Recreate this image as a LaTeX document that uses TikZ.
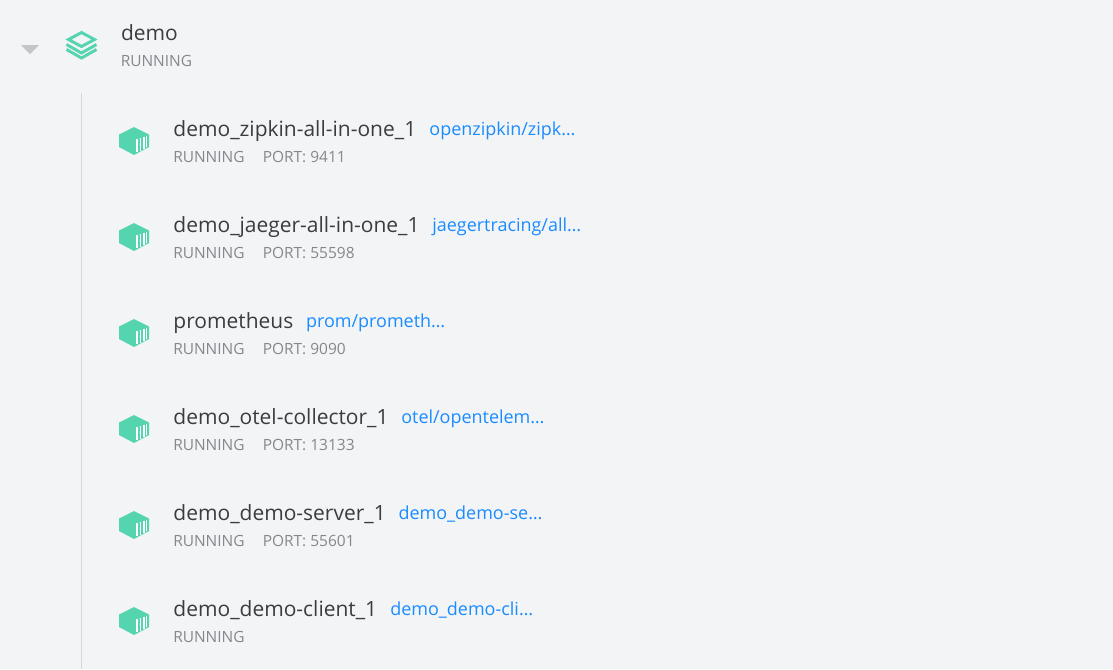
\documentclass[tikz,border=0pt]{standalone}
\usepackage{fontspec}
\setmainfont{Open Sans}
\usetikzlibrary{positioning}
\definecolor{PageBg}{HTML}{F3F4F6}
\definecolor{TreeLine}{HTML}{D6D7D9}
\definecolor{ArrowGrey}{HTML}{C4C5C7}
\definecolor{IconGreen}{HTML}{55D4B0}
\definecolor{NameInk}{HTML}{3A3D40}
\definecolor{StateInk}{HTML}{84888C}
\definecolor{ImageBlue}{HTML}{1A8CFF}
\tikzset{
  namelabel/.style={anchor=base west,inner sep=0pt,text=NameInk,font=\fontsize{15.73pt}{18pt}\selectfont},
  imagelabel/.style={anchor=base west,inner sep=0pt,text=ImageBlue,font=\fontsize{13.47pt}{16pt}\selectfont},
  statelabel/.style={anchor=base west,inner sep=0pt,text=StateInk,font=\fontsize{11.6pt}{13pt}\selectfont},
  boxicon/.pic={
    \fill[IconGreen] (134,-14) -- (149,-6.5) -- (149,6) -- (134,14) -- (119,6) -- (119,-6.5) -- cycle;
    \foreach \x/\w/\a/\b in {135.7/2/-1.7/11.3,139.7/1.6/-3/9.8,143.3/1.4/-4/8,146/1.3/-5.3/6} {
      \fill[white] (\x,\a) rectangle (\x+\w,\b);
    }
  }
}
\begin{document}
\begin{tikzpicture}[x=0.75pt,y=-0.75pt]
    \fill[PageBg] (0,0) rectangle (1113,669);
    \useasboundingbox (0,0) rectangle (1113,669);
    % tree head
    \fill[ArrowGrey] (21,45) -- (39,45) -- (30,54) -- cycle;
    \draw[TreeLine,line width=1.4pt] (81.5,93) -- (81.5,669);
    \draw[IconGreen,line width=2.2pt,line join=miter] (81.5,32.5) -- (94.5,39.5) -- (81.5,46.5) -- (68.5,39.5) -- cycle;
    \draw[IconGreen,line width=2.2pt] (66.5,44.5) -- (81.5,53) -- (96.5,44.5);
    \draw[IconGreen,line width=2.2pt] (66.5,49.5) -- (81.5,58) -- (96.5,49.5);
    \node[namelabel] (stack) at (120.8,40.3) {demo};
    \node[statelabel] (stackstate) at (120.5,66.3) {RUNNING};
    % containers
    \foreach \y/\nm/\img/\gap in {141/demo\_zipkin-all-in-one\_1/openzipkin\slash zipk…/12.7,
        237/demo\_jaeger-all-in-one\_1/jaegertracing\slash all…/12.2,
        333/prometheus/prom\slash prometh…/12.2,
        429/demo\_otel-collector\_1/otel\slash opentelem…/12.2,
        525/demo\_demo-server\_1/demo\_demo-se…/12.2,
        621/demo\_demo-client\_1/demo\_demo-cli…/12.5} {
      \pic at (0,\y) {boxicon};
      \node[namelabel] (name\y) at (173.2,\y-5) {\nm};
      \node[imagelabel,right=\gap*0.75pt of name\y.base east,anchor=base west,yshift=0.5pt] (image\y) {\img};
      \node[statelabel] (state\y) at (173,\y+21.3) {RUNNING};
    }
    \foreach \y/\pt in {141/9411,237/55598,333/9090,429/13133,525/55601} {
      \node[statelabel,right=13.2pt of state\y.base east,anchor=base west] (port\y) {PORT: \pt};
    }
  \end{tikzpicture}
\end{document}
